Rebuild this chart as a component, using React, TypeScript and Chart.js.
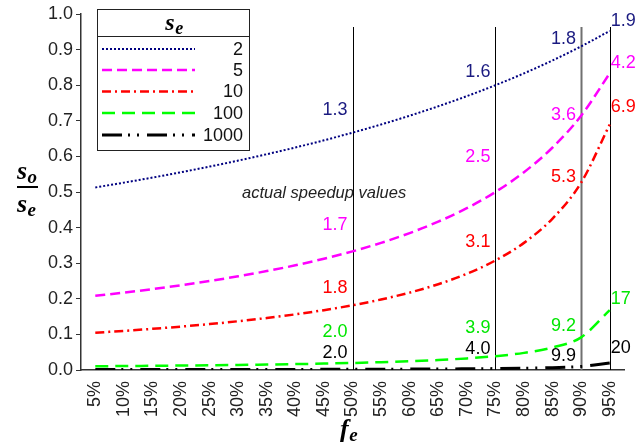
import React, { useEffect, useRef } from "react";
import { Chart, registerables } from "chart.js";

Chart.register(...registerables);

// ---- data ----
const fractions = ["5%", "10%", "15%", "20%", "25%", "30%", "35%", "40%", "45%", "50%", "55%", "60%", "65%", "70%", "75%", "80%", "85%", "90%", "95%"];
const seLabels = ["2", "5", "10", "100", "1000"];
const ratioSe2 = [0.5128, 0.5263, 0.5405, 0.5556, 0.5714, 0.5882, 0.6061, 0.625, 0.6452, 0.6667, 0.6897, 0.7143, 0.7407, 0.7692, 0.8, 0.8333, 0.8696, 0.9091, 0.9524];
const ratioSe5 = [0.2083, 0.2174, 0.2273, 0.2381, 0.25, 0.2632, 0.2778, 0.2941, 0.3125, 0.3333, 0.3571, 0.3846, 0.4167, 0.4545, 0.5, 0.5556, 0.625, 0.7143, 0.8333];
const ratioSe10 = [0.1047, 0.1099, 0.1156, 0.122, 0.129, 0.137, 0.146, 0.1563, 0.1681, 0.1818, 0.198, 0.2174, 0.241, 0.2703, 0.3077, 0.3571, 0.4255, 0.5263, 0.6897];
const ratioSe100 = [0.01052, 0.0111, 0.01174, 0.01247, 0.01329, 0.01422, 0.0153, 0.01656, 0.01803, 0.0198, 0.02195, 0.02463, 0.02805, 0.03257, 0.03883, 0.04808, 0.06309, 0.09174, 0.1681];
const ratioSe1000 = [0.001053, 0.001111, 0.001176, 0.00125, 0.001333, 0.001428, 0.001538, 0.001666, 0.001817, 0.001998, 0.00222, 0.002496, 0.002852, 0.003326, 0.003988, 0.00498, 0.00663, 0.00991, 0.01963];
const yTicks = [0, 0.1, 0.2, 0.3, 0.4, 0.5, 0.6, 0.7, 0.8, 0.9, 1.0];

// annotated vertical markers and the actual speedup values there
const markerFractions = ["50%", "75%", "90%", "95%"];
const speedupSe2 = ["1.3", "1.6", "1.8", "1.9"];
const speedupSe5 = ["1.7", "2.5", "3.6", "4.2"];
const speedupSe10 = ["1.8", "3.1", "5.3", "6.9"];
const speedupSe100 = ["2.0", "3.9", "9.2", "17"];
const speedupSe1000 = ["2.0", "4.0", "9.9", "20"];

// ---- layout / style (not data) ----
const labelYSe2 = [0.73, 0.837, 0.93, 0.98];
const labelYSe5 = [0.407, 0.598, 0.716, 0.862];
const labelYSe10 = [0.23, 0.36, 0.542, 0.739];
const labelYSe100 = [0.107, 0.118, 0.124, 0.199];
const labelYSe1000 = [0.048, 0.059, 0.039, 0.062];

const SANS = "'Liberation Sans', Arial, sans-serif";
const SERIF = "'Liberation Serif', 'Times New Roman', serif";

const styles = [
  { color: "#000080", text: "#1a1a80", dash: [2, 2], width: 2 },
  { color: "#ff00ff", text: "#ff00ff", dash: [10, 5], width: 2.5 },
  { color: "#ff0000", text: "#ff0000", dash: [9, 4, 2, 4], width: 2.5 },
  { color: "#00ff00", text: "#00e600", dash: [13, 7], width: 2.5 },
  { color: "#000000", text: "#000000", dash: [20, 6, 2, 7, 2, 8], width: 3 },
];

function drawSub(ctx: CanvasRenderingContext2D, main: string, sub: string, x: number, y: number, mainSize: number, subSize: number, align: "left" | "center") {
  ctx.save();
  ctx.fillStyle = "#000";
  ctx.textBaseline = "alphabetic";
  ctx.textAlign = "left";
  ctx.font = `italic bold ${mainSize}px ${SERIF}`;
  const w1 = ctx.measureText(main).width;
  ctx.font = `italic bold ${subSize}px ${SERIF}`;
  const w2 = ctx.measureText(sub).width;
  const x0 = align === "center" ? x - (w1 + w2) / 2 : x;
  ctx.font = `italic bold ${mainSize}px ${SERIF}`;
  ctx.fillText(main, x0, y);
  ctx.font = `italic bold ${subSize}px ${SERIF}`;
  ctx.fillText(sub, x0 + w1 + 0.5, y + mainSize * 0.15);
  ctx.restore();
}

const decorPlugin = {
  id: "decor",
  beforeDatasetsDraw(chart: any) {
    const ctx = chart.ctx;
    const xs = chart.scales.x;
    const area = chart.chartArea;
    ctx.save();
    markerFractions.forEach((f) => {
      const x = Math.round(xs.getPixelForValue(fractions.indexOf(f))) + 0.5;
      ctx.beginPath();
      ctx.strokeStyle = f === "90%" ? "#707070" : "#000";
      ctx.lineWidth = f === "90%" ? 2 : 1;
      ctx.moveTo(x, area.top + 13);
      ctx.lineTo(x, area.bottom);
      ctx.stroke();
    });
    ctx.restore();
  },
  afterDatasetsDraw(chart: any) {
    const ctx = chart.ctx;
    const xs = chart.scales.x;
    const ys = chart.scales.y;
    const texts = [speedupSe2, speedupSe5, speedupSe10, speedupSe100, speedupSe1000];
    const ypos = [labelYSe2, labelYSe5, labelYSe10, labelYSe100, labelYSe1000];
    ctx.save();
    ctx.font = `18px ${SANS}`;
    ctx.textBaseline = "middle";
    markerFractions.forEach((f, mi) => {
      const x = xs.getPixelForValue(fractions.indexOf(f));
      const last = mi === markerFractions.length - 1;
      ctx.textAlign = last ? "left" : "right";
      texts.forEach((arr, si) => {
        ctx.fillStyle = styles[si].text;
        ctx.fillText(arr[mi], last ? x + 1 : x - 5, ys.getPixelForValue(ypos[si][mi]));
      });
    });
    // note
    ctx.fillStyle = "#222";
    ctx.textAlign = "left";
    ctx.font = `italic 16.5px ${SANS}`;
    ctx.fillText("actual speedup values", 242, 193);

    // legend
    const lx = 97.5, ly = 9.5, lw = 152, lh = 141;
    ctx.fillStyle = "#fff";
    ctx.fillRect(lx, ly, lw, lh);
    ctx.strokeStyle = "#222";
    ctx.lineWidth = 1;
    ctx.strokeRect(lx, ly, lw, lh);
    ctx.beginPath();
    ctx.moveTo(lx, 36.5);
    ctx.lineTo(lx + lw, 36.5);
    ctx.stroke();
    const rowY = [49, 70, 91.5, 113, 135];
    seLabels.forEach((lab, i) => {
      const st = styles[i];
      ctx.beginPath();
      ctx.strokeStyle = st.color;
      ctx.lineWidth = st.width;
      ctx.setLineDash(st.dash);
      ctx.moveTo(102, rowY[i]);
      ctx.lineTo(195, rowY[i]);
      ctx.stroke();
      ctx.setLineDash([]);
      ctx.fillStyle = "#111";
      ctx.font = `18px ${SANS}`;
      ctx.textAlign = "right";
      ctx.textBaseline = "middle";
      ctx.fillText(lab, 243, rowY[i] + 1);
    });
    ctx.restore();
    drawSub(ctx, "s", "e", 174, 30, 24, 18, "center");

    // y axis title (fraction)
    drawSub(ctx, "s", "o", 17, 179, 26, 19, "left");
    ctx.save();
    ctx.fillStyle = "#000";
    ctx.fillRect(17, 186, 21, 2);
    ctx.restore();
    drawSub(ctx, "s", "e", 17, 212, 26, 19, "left");

    // x axis title
    drawSub(ctx, "f", "e", 340, 437, 26, 19, "left");
  },
};

export default function App() {
  const ref = useRef<HTMLCanvasElement>(null);
  useEffect(() => {
    document.body.style.margin = "0";
    const series = [ratioSe2, ratioSe5, ratioSe10, ratioSe100, ratioSe1000];
    const chart = new Chart(ref.current!, {
      type: "line",
      data: {
        labels: fractions,
        datasets: series.map((d, i) => ({
          label: seLabels[i],
          data: d,
          borderColor: styles[i].color,
          borderWidth: styles[i].width,
          borderDash: styles[i].dash,
          borderCapStyle: "butt",
          pointRadius: 0,
          fill: false,
          cubicInterpolationMode: "monotone",
        })),
      },
      options: {
        responsive: false,
        animation: false,
        layout: { padding: { top: 14, right: 20, left: 0, bottom: 0 } },
        plugins: { legend: { display: false }, tooltip: { enabled: false } },
        scales: {
          x: {
            type: "category",
            offset: true,
            grid: { display: false },
            border: { display: true, color: "#333", width: 1.5 },
            ticks: {
              autoSkip: false,
              maxRotation: 90,
              minRotation: 90,
              padding: 3,
              color: "#222",
              font: { size: 18, family: SANS },
            },
            afterFit: (s: any) => { s.height = 76; },
          },
          y: {
            min: 0,
            max: 1,
            afterBuildTicks: (s: any) => { s.ticks = yTicks.map((v) => ({ value: v })); },
            ticks: {
              padding: 3,
              color: "#222",
              font: { size: 18, family: SANS },
              callback: (v: any) => Number(v).toFixed(1),
            },
            grid: { drawOnChartArea: false, drawTicks: true, tickLength: 5, color: "#333" },
            border: { display: true, color: "#333", width: 1.5 },
            afterFit: (s: any) => { s.width = 81; },
          },
        },
      },
      plugins: [decorPlugin],
    } as any);
    return () => chart.destroy();
  }, []);
  return <canvas ref={ref} width={644} height={446} style={{ display: "block" }} />;
}
